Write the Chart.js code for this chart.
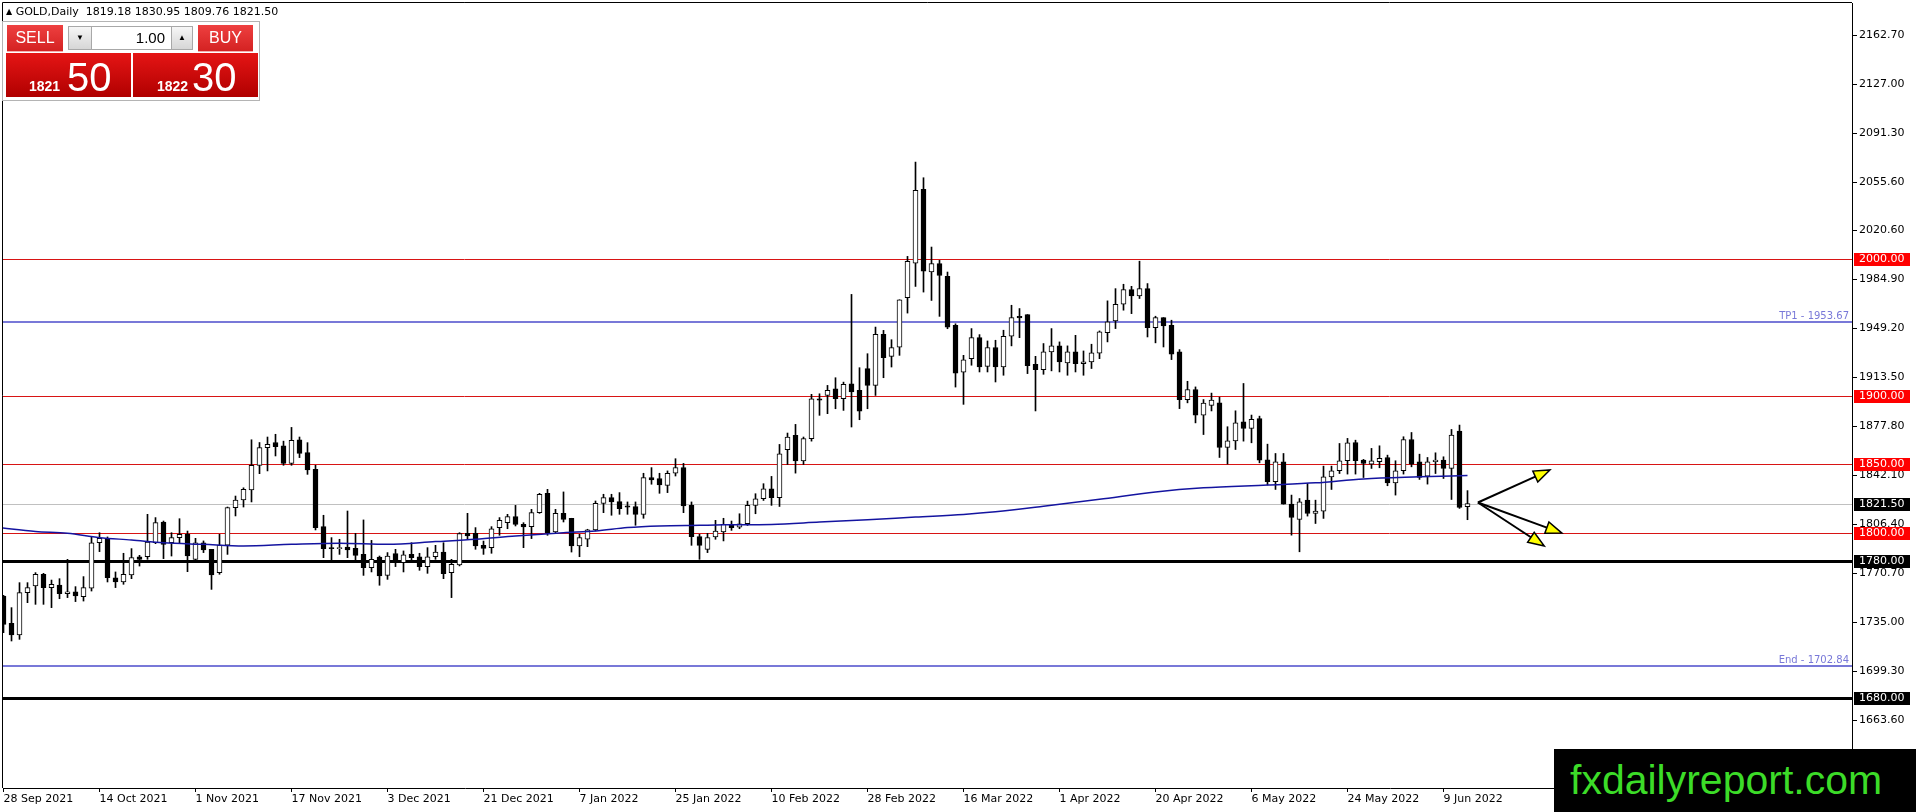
<!DOCTYPE html>
<html lang="en">

<head>
    <meta charset="UTF-8">
    <title>GOLD,Daily</title>
    <script src="https://cdn.jsdelivr.net/npm/chart.js@4.4.0/dist/chart.umd.min.js"></script>
    <style>
        html,
        body {
            margin: 0;
            padding: 0;
            background: #fff;
            overflow: hidden;
        }

        .wrap {
            position: relative;
            width: 1916px;
            height: 812px;
        }

        #chart {
            position: absolute;
            left: 0;
            top: 0;
        }

        .title {
            position: absolute;
            left: 6px;
            top: 5px;
            font: 11px "DejaVu Sans", sans-serif;
            color: #000;
            white-space: pre;
        }

        .title .tri {
            font-size: 8px;
            position: relative;
            top: -1px;
        }

        .panel {
            position: absolute;
            left: 2px;
            top: 21px;
            width: 256px;
            height: 78px;
            background: #fff;
            border: 1px solid #b4b4b4;
        }

        .abs {
            position: absolute;
            box-sizing: border-box;
        }

        .btn {
            background: linear-gradient(#ee4040, #d42222);
            color: #fff;
            font: 16px "Liberation Sans", Arial, sans-serif;
            text-align: center;
            line-height: 26px;
            border-bottom: 1px solid #f4b0b0;
        }

        .lotbtn {
            background: linear-gradient(#f6f6f6, #d6d6d6);
            border: 1px solid #a8a8a8;
            font-size: 8px;
            text-align: center;
            line-height: 22px;
            color: #000;
        }

        .lotval {
            background: #fff;
            border-top: 1px solid #a8a8a8;
            border-bottom: 1px solid #a8a8a8;
            font: 15px "Liberation Sans", Arial, sans-serif;
            text-align: right;
            padding-right: 6px;
            line-height: 22px;
        }

        .quote {
            background: linear-gradient(#e51515, #b00000);
            color: #fff;
            font-family: "Liberation Sans", Arial, sans-serif;
        }

        .quote b {
            position: absolute;
            bottom: 3px;
            font-size: 14px;
        }

        .quote span {
            position: absolute;
            bottom: 0px;
            font-size: 40px;
            line-height: 40px;
        }

        .brand {
            position: absolute;
            left: 1554px;
            top: 749px;
            width: 362px;
            height: 63px;
            background: #000;
            color: #3cdc28;
            font: 41px "Liberation Sans", Arial, sans-serif;
            line-height: 63px;
            padding-left: 16px;
            box-sizing: border-box;
        }
    </style>
</head>

<body>
    <div class="wrap">
        <canvas id="chart" width="1916" height="812" style="width:1916px;height:812px"></canvas>
        <div class="title"><span class="tri">&#9650;</span> GOLD,Daily  <span id="ohlc"></span></div>
        <div class="panel"></div>
        <div class="abs btn" style="left:7px;top:25px;width:56px;height:27px">SELL</div>
        <div class="abs lotbtn" style="left:68px;top:26px;width:24px;height:24px">&#9660;</div>
        <div class="abs lotval" style="left:92px;top:26px;width:79px;height:24px">1.00</div>
        <div class="abs lotbtn" style="left:171px;top:26px;width:22px;height:24px">&#9650;</div>
        <div class="abs btn" style="left:198px;top:25px;width:55px;height:27px">BUY</div>
        <div class="abs quote" style="left:6px;top:53px;width:125px;height:44px"><b id="bidBig" style="left:23px"></b><span id="bidPip" style="left:61px"></span></div>
        <div class="abs quote" style="left:133px;top:53px;width:125px;height:44px"><b id="askBig" style="left:24px"></b><span id="askPip" style="left:59px"></span></div>
        <div class="brand">fxdailyreport.com</div>
    </div>
    <script>
        // daily candles, 28 Sep 2021 .. 14 Jun 2022
        const opens = [
            1754.2, 1734.3, 1725.8, 1756.6, 1761.5, 1770.0, 1760.3, 1762.2, 1755.9, 1757.3, 1753.7, 1759.8,
            1793.0, 1796.0, 1767.5, 1764.4, 1769.5, 1782.8, 1782.8, 1793.0, 1808.1, 1793.0, 1796.7, 1799.1,
            1780.9, 1793.0, 1788.2, 1771.2, 1791.3, 1818.6, 1824.1, 1831.4, 1849.4, 1862.3, 1866.0, 1863.5,
            1850.8, 1868.0, 1858.6, 1846.5, 1804.7, 1789.2, 1788.7, 1789.9, 1788.9, 1784.5, 1774.8, 1782.6,
            1769.2, 1785.0, 1778.5, 1784.5, 1782.8, 1775.6, 1782.8, 1786.2, 1771.2, 1776.8, 1799.8, 1799.8,
            1791.1, 1789.4, 1804.0, 1807.6, 1812.0, 1806.4, 1804.7, 1814.9, 1829.0, 1800.8, 1814.4, 1810.8,
            1790.6, 1795.5, 1802.3, 1821.7, 1825.8, 1822.9, 1819.8, 1819.3, 1813.7, 1840.4, 1839.7, 1834.8,
            1843.6, 1847.7, 1820.2, 1797.4, 1788.2, 1797.2, 1800.8, 1805.6, 1804.4, 1806.8, 1820.2, 1825.0,
            1832.3, 1825.8, 1860.7, 1871.2, 1852.5, 1868.8, 1897.9, 1900.3, 1905.2, 1897.9, 1908.8, 1904.0,
            1919.8, 1907.6, 1944.8, 1928.7, 1935.5, 1971.5, 1996.7, 2050.4, 1990.2, 1996.3, 1987.0, 1951.3,
            1917.3, 1927.1, 1942.4, 1921.5, 1935.2, 1921.1, 1943.4, 1958.0, 1959.2, 1923.0, 1919.1, 1932.0,
            1936.4, 1924.0, 1932.0, 1923.5, 1924.7, 1931.0, 1946.1, 1954.6, 1966.7, 1977.4, 1972.8, 1978.1,
            1949.7, 1957.0, 1951.4, 1932.0, 1897.3, 1904.6, 1885.9, 1893.0, 1895.0, 1862.4, 1867.2, 1881.1,
            1876.2, 1883.5, 1853.4, 1837.4, 1852.0, 1821.1, 1809.9, 1824.0, 1814.3, 1816.0, 1841.0, 1845.4,
            1852.7, 1866.0, 1853.2, 1850.3, 1852.0, 1855.1, 1836.6, 1845.4, 1868.2, 1852.0, 1841.5, 1852.0,
            1853.2, 1847.1, 1874.3, 1819.18
        ];
        const highs = [
            1754.7, 1745.7, 1763.9, 1763.9, 1771.2, 1770.7, 1765.8, 1766.8, 1780.9, 1761.0, 1768.3, 1797.2,
            1800.3, 1797.2, 1771.7, 1785.3, 1788.7, 1783.8, 1813.7, 1811.3, 1808.8, 1800.3, 1810.5, 1801.5,
            1796.2, 1794.3, 1788.2, 1799.1, 1819.0, 1827.0, 1833.0, 1868.0, 1866.0, 1870.0, 1872.0, 1867.0,
            1877.0, 1870.0, 1865.9, 1849.4, 1813.0, 1796.7, 1795.5, 1816.1, 1799.8, 1809.6, 1794.7, 1783.3,
            1785.8, 1788.2, 1787.0, 1793.0, 1785.3, 1789.4, 1791.1, 1793.0, 1780.9, 1800.3, 1814.4, 1804.0,
            1794.2, 1804.7, 1811.3, 1813.7, 1820.2, 1807.6, 1817.3, 1829.0, 1831.9, 1817.3, 1830.0, 1810.8,
            1799.1, 1802.8, 1823.4, 1828.3, 1828.3, 1829.5, 1822.7, 1822.7, 1843.6, 1847.7, 1843.6, 1845.3,
            1854.2, 1850.8, 1822.7, 1799.1, 1799.8, 1809.3, 1810.8, 1808.8, 1814.1, 1823.3, 1828.7, 1836.0,
            1841.3, 1864.6, 1872.9, 1879.2, 1870.0, 1901.1, 1901.5, 1907.6, 1913.2, 1910.0, 1973.9, 1920.5,
            1930.7, 1950.1, 1947.7, 1940.9, 1970.0, 2001.6, 2070.3, 2058.9, 2008.4, 1998.7, 1990.2, 1952.5,
            1929.5, 1949.0, 1944.6, 1940.0, 1940.5, 1947.8, 1966.0, 1963.6, 1959.2, 1928.8, 1938.1, 1949.0,
            1939.3, 1936.4, 1944.1, 1932.7, 1937.6, 1947.3, 1969.2, 1978.1, 1981.3, 1979.8, 1998.1, 1981.8,
            1958.0, 1957.0, 1955.1, 1933.7, 1910.6, 1906.5, 1897.3, 1902.0, 1899.0, 1877.5, 1889.1, 1909.0,
            1886.0, 1885.2, 1864.8, 1858.0, 1858.0, 1827.7, 1825.2, 1836.2, 1824.0, 1848.8, 1848.8, 1865.3,
            1869.0, 1867.7, 1853.7, 1861.7, 1863.6, 1856.8, 1852.7, 1870.2, 1873.3, 1857.5, 1855.1, 1858.5,
            1855.6, 1875.5, 1878.7, 1830.95
        ];
        const lows = [
            1727.5, 1721.4, 1722.6, 1749.3, 1748.1, 1748.1, 1745.7, 1752.2, 1753.0, 1750.1, 1750.5, 1757.8,
            1786.5, 1764.4, 1760.3, 1762.7, 1766.8, 1776.0, 1780.9, 1792.3, 1781.4, 1783.3, 1793.0, 1771.9,
            1779.0, 1785.8, 1759.0, 1770.0, 1784.5, 1812.5, 1819.0, 1822.7, 1843.3, 1845.3, 1856.2, 1849.4,
            1849.4, 1855.0, 1842.8, 1802.3, 1782.1, 1778.5, 1784.5, 1782.1, 1779.0, 1769.2, 1771.7, 1762.0,
            1766.3, 1775.6, 1771.7, 1779.7, 1772.9, 1770.7, 1780.9, 1766.8, 1753.0, 1776.1, 1795.5, 1788.2,
            1784.5, 1785.3, 1798.4, 1803.2, 1805.2, 1789.4, 1796.0, 1814.4, 1798.4, 1799.8, 1808.1, 1786.2,
            1782.8, 1790.1, 1801.6, 1814.9, 1813.0, 1813.7, 1813.7, 1805.7, 1810.8, 1835.6, 1829.0, 1829.5,
            1841.6, 1814.9, 1791.1, 1780.9, 1785.8, 1795.5, 1794.3, 1802.0, 1803.2, 1805.6, 1814.1, 1823.8,
            1820.2, 1819.4, 1850.0, 1843.7, 1850.0, 1867.0, 1885.8, 1887.0, 1890.6, 1889.4, 1877.3, 1882.6,
            1890.6, 1900.3, 1913.2, 1921.0, 1929.5, 1960.3, 1979.7, 1975.6, 1969.5, 1957.9, 1948.9, 1906.4,
            1893.8, 1922.3, 1917.4, 1917.4, 1910.1, 1915.0, 1936.4, 1942.4, 1916.2, 1889.0, 1915.7, 1918.2,
            1917.4, 1915.0, 1917.4, 1915.0, 1919.9, 1927.1, 1939.3, 1949.0, 1962.4, 1959.9, 1970.9, 1942.9,
            1938.6, 1935.6, 1926.4, 1890.7, 1894.9, 1880.3, 1871.8, 1889.0, 1855.1, 1850.3, 1860.9, 1867.0,
            1865.8, 1851.2, 1835.0, 1831.8, 1821.1, 1798.5, 1786.4, 1812.4, 1807.0, 1810.7, 1831.8, 1843.4,
            1843.0, 1843.0, 1840.5, 1847.1, 1847.6, 1834.5, 1827.7, 1843.0, 1848.3, 1839.1, 1835.7, 1843.4,
            1839.8, 1824.5, 1818.0, 1809.76
        ];
        const closes = [
            1733.5, 1725.8, 1756.6, 1760.3, 1770.0, 1760.3, 1762.7, 1755.9, 1757.3, 1754.2, 1760.3, 1793.0,
            1796.2, 1767.5, 1764.4, 1770.0, 1782.1, 1780.9, 1793.5, 1807.6, 1791.8, 1796.7, 1799.1, 1783.3,
            1793.0, 1787.7, 1769.5, 1791.3, 1818.6, 1824.1, 1831.9, 1849.4, 1862.3, 1864.7, 1863.0, 1850.8,
            1867.6, 1858.1, 1846.0, 1804.0, 1788.7, 1788.7, 1788.9, 1787.7, 1783.8, 1774.8, 1780.9, 1768.8,
            1783.3, 1778.5, 1784.1, 1782.1, 1775.6, 1782.8, 1786.2, 1770.5, 1777.3, 1799.6, 1797.9, 1790.6,
            1788.9, 1803.2, 1809.3, 1812.0, 1806.4, 1804.5, 1814.9, 1828.3, 1800.3, 1814.4, 1810.0, 1790.6,
            1796.7, 1802.3, 1821.7, 1825.8, 1822.7, 1817.8, 1818.9, 1813.7, 1840.4, 1838.7, 1835.1, 1843.6,
            1847.7, 1819.8, 1797.4, 1791.1, 1796.7, 1801.5, 1806.4, 1803.9, 1806.8, 1820.2, 1825.0, 1832.3,
            1825.8, 1857.8, 1870.0, 1852.5, 1868.8, 1897.9, 1896.9, 1904.0, 1897.9, 1908.3, 1902.8, 1888.9,
            1907.6, 1944.8, 1927.8, 1935.1, 1970.0, 1998.0, 2049.7, 1990.9, 1996.3, 1987.7, 1950.1, 1916.6,
            1926.3, 1942.4, 1921.1, 1935.2, 1921.1, 1943.4, 1957.0, 1956.8, 1921.9, 1919.1, 1932.0, 1936.4,
            1924.7, 1932.0, 1923.5, 1924.7, 1931.3, 1946.6, 1953.9, 1966.7, 1977.4, 1972.8, 1978.1, 1949.7,
            1957.0, 1950.9, 1930.3, 1897.3, 1904.6, 1885.9, 1894.8, 1897.0, 1862.4, 1867.2, 1880.4, 1876.2,
            1882.8, 1853.2, 1837.4, 1852.0, 1821.1, 1811.4, 1822.8, 1814.3, 1816.0, 1841.0, 1845.4, 1852.7,
            1865.8, 1852.7, 1850.7, 1852.7, 1854.4, 1836.6, 1845.4, 1868.2, 1850.3, 1840.5, 1852.0, 1853.2,
            1847.1, 1871.4, 1818.7, 1821.50
        ];

        // moving average (blue line), sampled at these bar numbers
        const maBars = [-0.5, 4, 8, 12, 16, 20, 25, 30, 36, 42, 48, 54, 59, 64, 70, 74, 78, 82, 87, 90,
            96, 102, 108, 114, 120, 124, 130, 137, 144, 150, 158, 164, 170, 177, 183];
        const maValues = [1804.0, 1801.2, 1799.9, 1796.7, 1795.0, 1793.0, 1791.8, 1790.6, 1791.8, 1792.6,
            1791.8, 1793.8, 1795.5, 1797.9, 1800.3, 1801.5, 1804.0, 1805.2, 1805.7, 1806.0,
            1806.3, 1808.0, 1809.7, 1811.7, 1813.6, 1815.5, 1819.5, 1824.6, 1830.0, 1833.0,
            1835.0, 1836.6, 1839.5, 1841.0, 1842.0];

        // time axis: one label every 12 bars
        const dateTickBars = [0, 12, 24, 36, 48, 60, 72, 84, 96, 108, 120, 132, 144, 156, 168, 180];
        const dateLabels = ['28 Sep 2021', '14 Oct 2021', '1 Nov 2021', '17 Nov 2021', '3 Dec 2021',
            '21 Dec 2021', '7 Jan 2022', '25 Jan 2022', '10 Feb 2022', '28 Feb 2022', '16 Mar 2022',
            '1 Apr 2022', '20 Apr 2022', '6 May 2022', '24 May 2022', '9 Jun 2022'];

        // price axis
        const priceTicks = [2162.7, 2127.0, 2091.3, 2055.6, 2020.6, 1984.9, 1949.2, 1913.5, 1877.8,
            1842.1, 1806.4, 1770.7, 1735.0, 1699.3, 1663.6];
        const priceTickLabels = ['2162.70', '2127.00', '2091.30', '2055.60', '2020.60', '1984.90',
            '1949.20', '1913.50', '1877.80', '1842.10', '1806.40', '1770.70', '1735.00', '1699.30', '1663.60'];

        // horizontal levels drawn on the chart
        const levelPrices = [2000, 1953.67, 1900, 1850, 1821.5, 1800, 1780, 1702.84, 1680];
        const levelKinds = ['red', 'target', 'red', 'red', 'bid', 'red', 'black', 'target', 'black'];
        const levelNames = ['', 'TP1', '', '', '', '', '', 'End', ''];

        // arrows: start point and end points, in bar number / price
        const arrowFrom = [184.3, 1822.3];
        const arrowTo = [[193.3, 1846.0], [194.8, 1800.0], [192.6, 1790.6]];

        const askPrice = 1822.30;

        const last = closes.length - 1;
        document.getElementById('ohlc').textContent =
            [opens[last], highs[last], lows[last], closes[last]].map(v => v.toFixed(2)).join(' ');
        function splitQuote(p, bigId, pipId) {
            const s = p.toFixed(2).split('.');
            document.getElementById(bigId).textContent = s[0];
            document.getElementById(pipId).textContent = s[1];
        }
        splitQuote(closes[last], 'bidBig', 'bidPip');
        splitQuote(askPrice, 'askBig', 'askPip');

        const kindStyle = {
            red: { color: '#d81414', width: 1, box: '#ff0000' },
            target: { color: '#7878d8', width: 2, box: null },
            bid: { color: '#c0c0c0', width: 1, box: '#000000' },
            black: { color: '#000000', width: 3, box: '#000000' }
        };
        const axisFont = { family: '"DejaVu Sans", sans-serif', size: 11 };

        const levelsPlugin = {
            id: 'levels',
            beforeDatasetsDraw(chart) {
                const { ctx, chartArea: a, scales: { y } } = chart;
                ctx.save();
                ctx.beginPath();
                ctx.rect(a.left, a.top, a.right - a.left, a.bottom - a.top);
                ctx.clip();
                levelPrices.forEach(function (p, k) {
                    const st = kindStyle[levelKinds[k]];
                    let py = Math.round(y.getPixelForValue(p));
                    if (st.width % 2) py += 0.5;
                    ctx.strokeStyle = st.color;
                    ctx.lineWidth = st.width;
                    ctx.beginPath();
                    ctx.moveTo(0, py);
                    ctx.lineTo(a.right, py);
                    ctx.stroke();
                    if (levelNames[k]) {
                        ctx.fillStyle = st.color;
                        ctx.font = '10px "DejaVu Sans", sans-serif';
                        ctx.textAlign = 'right';
                        ctx.textBaseline = 'bottom';
                        ctx.fillText(levelNames[k] + ' - ' + p.toFixed(2), a.right - 3, py - 1);
                    }
                });
                ctx.restore();
            },
            afterDatasetsDraw(chart) {
                const { ctx, scales: { x, y } } = chart;
                const x0 = x.getPixelForValue(arrowFrom[0]);
                const y0 = y.getPixelForValue(arrowFrom[1]);
                ctx.save();
                arrowTo.forEach(function (t) {
                    const x1 = x.getPixelForValue(t[0]);
                    const y1 = y.getPixelForValue(t[1]);
                    const ang = Math.atan2(y1 - y0, x1 - x0);
                    const len = 16, hw = 6;
                    const bx = x1 - len * Math.cos(ang), by = y1 - len * Math.sin(ang);
                    ctx.strokeStyle = '#000';
                    ctx.lineWidth = 2;
                    ctx.beginPath();
                    ctx.moveTo(x0, y0);
                    ctx.lineTo(bx, by);
                    ctx.stroke();
                    ctx.beginPath();
                    ctx.moveTo(x1, y1);
                    ctx.lineTo(bx - hw * Math.sin(ang), by + hw * Math.cos(ang));
                    ctx.lineTo(bx + hw * Math.sin(ang), by - hw * Math.cos(ang));
                    ctx.closePath();
                    ctx.fillStyle = '#ffff00';
                    ctx.fill();
                    ctx.lineWidth = 1.5;
                    ctx.stroke();
                });
                ctx.restore();
            },
            afterDraw(chart) {
                const { ctx, chartArea: a, scales: { y } } = chart;
                ctx.save();
                // frame on the left and top
                ctx.strokeStyle = '#000';
                ctx.lineWidth = 1;
                ctx.beginPath();
                ctx.moveTo(a.left - 0.5, a.bottom);
                ctx.lineTo(a.left - 0.5, a.top - 0.5);
                ctx.lineTo(a.right, a.top - 0.5);
                ctx.stroke();
                // price tags on the axis
                ctx.font = '11px "DejaVu Sans", sans-serif';
                ctx.textBaseline = 'middle';
                ctx.textAlign = 'left';
                levelPrices.forEach(function (p, k) {
                    const st = kindStyle[levelKinds[k]];
                    if (!st.box) return;
                    const py = Math.round(y.getPixelForValue(p));
                    ctx.fillStyle = st.box;
                    ctx.fillRect(y.left + 2, py - 6, 56, 13);
                    ctx.fillStyle = '#fff';
                    ctx.fillText(p.toFixed(2), y.left + 7, py + 0.5);
                });
                ctx.restore();
            }
        };

        const ctx = document.getElementById('chart').getContext('2d');
        const barIdx = opens.map(function (o, i) { return i; });
        const myChart = new Chart(ctx, {
            type: 'bar',
            data: {
                datasets: [{
                    type: 'line',
                    label: 'MA',
                    data: maBars.map(function (b, i) { return { x: b, y: maValues[i] }; }),
                    borderColor: '#1414a0',
                    borderWidth: 1.5,
                    pointRadius: 0,
                    cubicInterpolationMode: 'monotone',
                    order: 0
                }, {
                    label: 'Body',
                    data: barIdx.map(function (i) { return { x: i, y: [opens[i], closes[i]] }; }),
                    backgroundColor: barIdx.map(function (i) { return closes[i] >= opens[i] ? '#ffffff' : '#000000'; }),
                    borderColor: '#000000',
                    borderWidth: 1,
                    borderSkipped: false,
                    barThickness: 5,
                    minBarLength: 1,
                    grouped: false,
                    order: 1
                }, {
                    label: 'Wick',
                    data: barIdx.map(function (i) { return { x: i, y: [lows[i], highs[i]] }; }),
                    backgroundColor: '#000000',
                    borderWidth: 0,
                    barThickness: 1,
                    grouped: false,
                    order: 2
                }]
            },
            options: {
                responsive: false,
                animation: false,
                layout: { padding: { left: 3, top: 3, right: 0, bottom: 0 } },
                plugins: {
                    legend: { display: false },
                    tooltip: { enabled: false }
                },
                scales: {
                    x: {
                        type: 'linear',
                        min: -0.0625,
                        max: 231.0625,
                        offset: false,
                        afterBuildTicks: function (s) {
                            s.ticks = dateTickBars.map(function (v) { return { value: v }; });
                        },
                        afterFit: function (s) {
                            s.height = 24;
                            s.paddingLeft = 0;
                            s.paddingRight = 0;
                        },
                        ticks: {
                            callback: function (v, i) { return dateLabels[i]; },
                            align: 'start',
                            autoSkip: false,
                            maxRotation: 0,
                            padding: 1,
                            color: '#000',
                            font: axisFont
                        },
                        grid: { drawOnChartArea: false, offset: false, tickLength: 4, color: '#000' },
                        border: { display: true, color: '#000', width: 1 }
                    },
                    y: {
                        position: 'right',
                        min: 1614.3,
                        max: 2186.2,
                        afterBuildTicks: function (s) {
                            s.ticks = priceTicks.map(function (v) { return { value: v }; });
                        },
                        afterFit: function (s) {
                            s.width = 64;
                            s.paddingTop = 0;
                            s.paddingBottom = 0;
                        },
                        ticks: {
                            callback: function (v, i) { return priceTickLabels[i]; },
                            autoSkip: false,
                            padding: 2,
                            color: '#000',
                            font: axisFont
                        },
                        grid: { drawOnChartArea: false, tickLength: 5, color: '#000' },
                        border: { display: true, color: '#000', width: 1 }
                    }
                }
            },
            plugins: [levelsPlugin]
        });
    </script>
</body>

</html>
